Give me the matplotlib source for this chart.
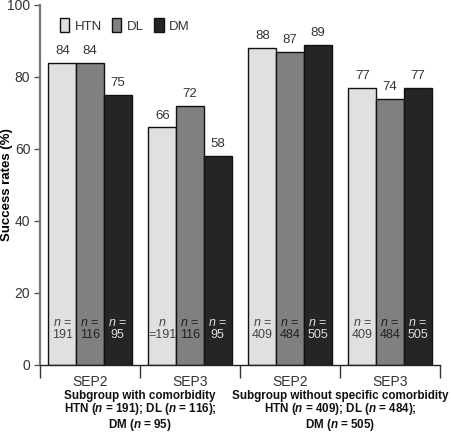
import matplotlib
matplotlib.use("Agg")
import matplotlib.pyplot as plt
import numpy as np

plt.rcParams['font.family'] = ['Liberation Sans', 'DejaVu Sans']
plt.rcParams['mathtext.fontset'] = 'custom'
plt.rcParams['mathtext.rm'] = 'Liberation Sans'
plt.rcParams['mathtext.it'] = 'Liberation Sans:italic'
plt.rcParams['mathtext.bf'] = 'Liberation Sans:bold'
plt.rcParams['mathtext.bfit'] = 'Liberation Sans:bold:italic'

# Data
categories = ["SEP2", "SEP3", "SEP2", "SEP3"]
series = ["HTN", "DL", "DM"]
htn = [84, 66, 88, 77]
dl = [84, 72, 87, 74]
dm = [75, 58, 89, 77]
n_htn = ["191", "=191", "409", "409"]
n_dl = ["116", "116", "484", "484"]
n_dm = ["95", "95", "505", "505"]
n_prefix_htn = ["$\\mathit{n}$ =", "$\\mathit{n}$", "$\\mathit{n}$ =", "$\\mathit{n}$ ="]
group_titles = [
    "Subgroup with comorbidity\nHTN ($\\mathbfit{n}$ = 191); DL ($\\mathbfit{n}$ = 116);\nDM ($\\mathbfit{n}$ = 95)",
    "Subgroup without specific comorbidity\nHTN ($\\mathbfit{n}$ = 409); DL ($\\mathbfit{n}$ = 484);\nDM ($\\mathbfit{n}$ = 505)",
]
yticks = [0, 20, 40, 60, 80, 100]

colors = ["#e0e0e0", "#808080", "#252525"]
ncolors = ["#444444", "#222222", "#dddddd"]

fig = plt.figure(figsize=(4.52, 4.32), dpi=100)
ax = fig.add_axes([40/452, 67/432, 400/452, 360/432])

x = np.arange(len(categories))
w = 0.277
vals = [htn, dl, dm]
ns = [n_htn, n_dl, n_dm]
for i, (v, c, nc, nn) in enumerate(zip(vals, colors, ncolors, ns)):
    xs = x + (i - 1) * w
    ax.bar(xs, v, width=w, color=c, edgecolor="#111111", linewidth=1.0, label=series[i], zorder=2)
    for xi, vi, ni, k in zip(xs, v, nn, range(4)):
        ax.text(xi, vi + 1.6, str(vi), ha="center", va="bottom", fontsize=9.5, color="#333333")
        pre = n_prefix_htn[k] if i == 0 else "$\\mathit{n}$ ="
        ax.text(xi, 11.8, pre, ha="center", va="center", fontsize=9, color=nc)
        ax.text(xi, 8.2, ni, ha="center", va="center", fontsize=9, color=nc)

ax.set_xlim(-0.5, 3.5)
ax.set_ylim(0, 100)
ax.set_yticks(yticks)
ax.set_xticks([-0.5, 0.5, 1.5, 2.5, 3.5])
ax.set_xticklabels([])
ax.tick_params(axis="x", direction="out", length=9, width=1, color="#333333")
ax.tick_params(axis="y", direction="out", length=4, width=1, pad=3, color="#555555", labelsize=10, labelcolor="#333333")
for s in ["top", "right"]:
    ax.spines[s].set_visible(False)
ax.spines["left"].set_color("#777777")
ax.spines["left"].set_linewidth(1.6)
ax.spines["bottom"].set_color("#222222")
ax.spines["bottom"].set_linewidth(1.0)

ax.set_ylabel("Success rates (%)", fontsize=9.5, fontweight="bold")
ax.yaxis.set_label_coords(-0.068, 0.5)

for xi, c in zip(x, categories):
    ax.text(xi, -4.6, c, ha="center", va="center", fontsize=10, color="#333333")
for gi, t in enumerate(group_titles):
    ax.text(0.5 + 2 * gi, -6.9, t, ha="center", va="top", fontsize=8.4, fontweight="bold",
            linespacing=0.95, color="#111111")

leg = ax.legend(loc="upper left", bbox_to_anchor=(0.03, 0.985), ncol=3, frameon=False,
                fontsize=9.5, handlelength=0.7, handleheight=1.2, handletextpad=0.4,
                columnspacing=0.8, borderaxespad=0.2)
for t in leg.get_texts():
    t.set_color("#333333")

fig.savefig("out.png", dpi=100)
